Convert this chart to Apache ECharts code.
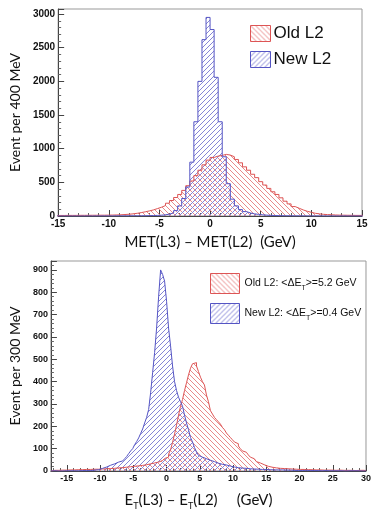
<!DOCTYPE html>
<html>
<head>
<meta charset="utf-8">
<script src="https://cdn.jsdelivr.net/npm/echarts@6/dist/echarts.min.js"></script>
<style>
  html, body { margin: 0; padding: 0; background: #fff; }
  #main { width: 374px; height: 512px; }
</style>
</head>
<body>
<div id="main"></div>
<script>
// top: MET(L3) - MET(L2), 400 MeV bins, first bin starts at -15.2
const metBinStart = -15.2
const metBinWidth = 0.4
const metOld = [
  8, 8, 9, 9, 9, 10, 10, 10, 11, 11,
  12, 12, 13, 14, 16, 18, 22, 26, 32, 40,
  50, 62, 75, 90, 110, 130, 155, 190, 230, 275,
  320, 380, 450, 520, 600, 680, 760, 830, 870, 890,
  900, 915, 905, 880, 840, 790, 730, 680, 620, 570,
  510, 460, 410, 360, 320, 270, 220, 180, 140, 115,
  90, 70, 55, 40, 32, 25, 21, 18, 15, 13,
  12, 11, 10, 9, 9, 8
]
const metNew = [
  0, 0, 0, 0, 0, 0, 0, 1, 0, 1,
  1, 1, 1, 1, 2, 2, 2, 2, 3, 3,
  3, 4, 5, 7, 9, 12, 18, 28, 45, 80,
  150, 260, 430, 800, 1400, 2000, 2620, 2950, 2770, 2060,
  1400, 880, 480, 250, 150, 95, 65, 45, 32, 24,
  18, 13, 10, 7, 5, 4, 3, 3, 2, 2,
  2, 1, 1, 1, 1, 1, 0, 1, 0, 0,
  1, 0, 0, 0, 0, 0
]

// bottom: ET(L3) - ET(L2), 300 MeV bins from -17.4
const etBinStart = -17.4
const etBinWidth = 0.3
const etOld = [
  2, 3, 2, 3, 3, 4, 3, 4, 4, 5,
  4, 5, 5, 6, 5, 6, 6, 7, 6, 7,
  7, 8, 7, 8, 8, 9, 9, 10, 10, 11,
  12, 12, 13, 14, 14, 15, 16, 17, 18, 19,
  20, 21, 22, 23, 24, 25, 26, 28, 30, 32,
  34, 36, 38, 40, 43, 47, 51, 56, 62, 75,
  95, 128, 165, 205, 250, 290, 320, 360, 395, 430,
  460, 480, 485, 470, 445, 420, 400, 385, 340, 310,
  270, 255, 240, 230, 220, 210, 195, 185, 170, 160,
  150, 140, 130, 122, 112, 100, 90, 84, 78, 72,
  62, 55, 48, 42, 36, 32, 28, 24, 21, 19,
  17, 16, 14, 13, 12, 11, 11, 10, 10, 9,
  9, 8, 8, 8, 7, 7, 7, 6, 6, 6,
  6, 5, 5, 6, 5, 5, 4, 5, 4, 4,
  4, 4, 3, 4, 4, 3, 3, 4, 3, 3,
  3, 3, 2, 3, 3, 2, 3, 2
]
const etNew = [
  0, 1, 0, 0, 1, 0, 1, 1, 0, 1,
  1, 1, 2, 1, 2, 2, 1, 2, 3, 2,
  3, 4, 5, 6, 8, 12, 15, 18, 22, 26,
  30, 32, 36, 40, 42, 45, 48, 55, 65, 78,
  90, 100, 118, 132, 148, 168, 188, 215, 240, 275,
  350, 440, 530, 640, 780, 900, 880, 850, 760, 640,
  560, 470, 400, 360, 330, 310, 290, 250, 215, 185,
  150, 130, 105, 85, 70, 62, 58, 55, 52, 48,
  45, 42, 38, 35, 33, 30, 29, 27, 25, 22,
  20, 18, 17, 15, 14, 13, 12, 12, 11, 10,
  10, 9, 9, 8, 8, 7, 7, 7, 6, 6,
  6, 5, 5, 5, 4, 5, 4, 4, 3, 4,
  3, 3, 3, 2, 3, 2, 2, 3, 2, 2,
  2, 2, 1, 2, 2, 1, 1, 2, 1, 1,
  1, 1, 1, 1, 0, 1, 1, 0, 1, 1,
  0, 1, 0, 1, 0, 0, 1, 0
]

const RED = '#dd5555'
const RED_HATCH = '#e88a8a'
const BLUE = '#5555c4'
const BLUE_HATCH = '#8585d6'

// ROOT-like hatch tiles
function hatch(color, forward) {
  const s = 5
  const c = document.createElement('canvas')
  c.width = s; c.height = s
  const g = c.getContext('2d')
  g.strokeStyle = color
  g.lineWidth = 1
  g.beginPath()
  if (forward) {
    g.moveTo(0, s); g.lineTo(s, 0)
    g.moveTo(-1, 1); g.lineTo(1, -1)
    g.moveTo(s - 1, s + 1); g.lineTo(s + 1, s - 1)
  } else {
    g.moveTo(0, 0); g.lineTo(s, s)
    g.moveTo(-1, s - 1); g.lineTo(1, s + 1)
    g.moveTo(s - 1, -1); g.lineTo(s + 1, 1)
  }
  g.stroke()
  return { image: c, repeat: 'repeat' }
}
const redFill = hatch(RED_HATCH, false)
const blueFill = hatch(BLUE_HATCH, true)

// bin counts -> step outline points
function steps(start, width, counts) {
  const pts = [[start, 0]]
  counts.forEach((v, i) => pts.push([start + i * width, v]))
  pts.push([start + counts.length * width, 0])
  return pts
}

function histo(name, idx, pts, line, fill) {
  return {
    name: name, type: 'line', xAxisIndex: idx, yAxisIndex: idx,
    data: pts, step: 'end', symbol: 'none', silent: true,
    lineStyle: { color: line, width: 1 },
    itemStyle: { color: line },
    areaStyle: { color: fill, opacity: 1, origin: 'start' },
    animation: false
  }
}

const tickLabel = (size) => ({
  color: '#111', fontSize: size, fontWeight: 'bold',
  fontFamily: 'Liberation Sans', margin: 3,
  formatter: (v) => String(v)
})
const axisBase = {
  type: 'value',
  axisLine: { show: true, onZero: false, lineStyle: { color: '#444' } },
  axisTick: { show: true, inside: true, length: 6, lineStyle: { color: '#444' } },
  minorTick: { show: true, splitNumber: 5, length: 3, lineStyle: { color: '#666' } },
  splitLine: { show: false }
}
const titleFont = { color: '#111', fontSize: 15, fontFamily: 'Lato' }

const chart = echarts.init(document.getElementById('main'))
chart.setOption({
  animation: false,
  grid: [
    { left: 52, right: 12, top: 9, bottom: 296, show: true, borderColor: '#999', borderWidth: 1 },
    { left: 49, right: 2, top: 261, bottom: 36, show: true, borderColor: '#999', borderWidth: 1 }
  ],
  xAxis: [
    {
      ...axisBase, gridIndex: 0, min: -15, max: 15, interval: 5,
      axisLabel: tickLabel(10),
      name: 'MET(L3) \u2013 MET(L2)  (GeV)', nameLocation: 'middle', nameGap: 19,
      nameTextStyle: titleFont
    },
    {
      ...axisBase, gridIndex: 1, min: -17.4, max: 30, splitNumber: 10,
      axisLabel: { ...tickLabel(9), showMinLabel: false },
      name: '{t|E}{s|T}{t|(L3) \u2013 E}{s|T}{t|(L2)     (GeV)}', nameLocation: 'middle', nameGap: 21,
      nameTextStyle: {
        ...titleFont, padding: [0, 20, 0, 0],
        rich: {
          t: { fontSize: 15, fontFamily: 'Lato', color: '#111', lineHeight: 16 },
          s: { fontSize: 9, fontFamily: 'Lato', color: '#111', verticalAlign: 'bottom', lineHeight: 9, padding: [0, 0, -3, 0] }
        }
      }
    }
  ],
  yAxis: [
    {
      ...axisBase, gridIndex: 0, min: 0, max: 3075, interval: 500,
      axisLabel: { ...tickLabel(10), showMaxLabel: false },
      name: 'Event per 400 MeV', nameLocation: 'middle', nameGap: 27,
      nameTextStyle: { ...titleFont, fontSize: 14 }
    },
    {
      ...axisBase, gridIndex: 1, min: 0, max: 940, interval: 100,
      axisLabel: { ...tickLabel(9), showMaxLabel: false },
      name: 'Event per 300 MeV', nameLocation: 'middle', nameGap: 24,
      nameTextStyle: { ...titleFont, fontSize: 14 }
    }
  ],
  legend: [
    {
      orient: 'vertical', left: 245, top: 20, itemWidth: 20, itemHeight: 16, itemGap: 9,
      icon: 'rect', selectedMode: false,
      textStyle: { fontSize: 17, fontFamily: 'Liberation Sans', color: '#111', padding: [0, 0, 0, -2] },
      data: [
        { name: 'Old L2', itemStyle: { color: redFill, borderColor: RED, borderWidth: 1 } },
        { name: 'New L2', itemStyle: { color: blueFill, borderColor: BLUE, borderWidth: 1 } }
      ]
    },
    {
      orient: 'vertical', left: 205, top: 268, itemWidth: 29, itemHeight: 20, itemGap: 9,
      icon: 'rect', selectedMode: false,
      formatter: (n) => n === 'Old L2'
        ? '{t|Old L2: <\u0394E}{s|T}{t|>=5.2 GeV}'
        : '{t|New L2: <\u0394E}{s|T}{t|>=0.4 GeV}',
      textStyle: {
        fontSize: 10.5, fontFamily: 'Liberation Sans', color: '#111',
        rich: {
          t: { fontSize: 10.5, fontFamily: 'Liberation Sans', color: '#111', lineHeight: 13 },
          s: { fontSize: 7, fontFamily: 'Liberation Sans', color: '#111', verticalAlign: 'bottom', lineHeight: 7, padding: [0, 0, -2, 0] }
        }
      },
      data: [
        { name: 'Old L2', itemStyle: { color: redFill, borderColor: RED, borderWidth: 1 } },
        { name: 'New L2', itemStyle: { color: blueFill, borderColor: BLUE, borderWidth: 1 } }
      ]
    }
  ],
  series: [
    histo('Old L2', 0, steps(metBinStart, metBinWidth, metOld), RED, redFill),
    histo('New L2', 0, steps(metBinStart, metBinWidth, metNew), BLUE, blueFill),
    histo('Old L2', 1, steps(etBinStart, etBinWidth, etOld), RED, redFill),
    histo('New L2', 1, steps(etBinStart, etBinWidth, etNew), BLUE, blueFill)
  ]
})
</script>
</body>
</html>
